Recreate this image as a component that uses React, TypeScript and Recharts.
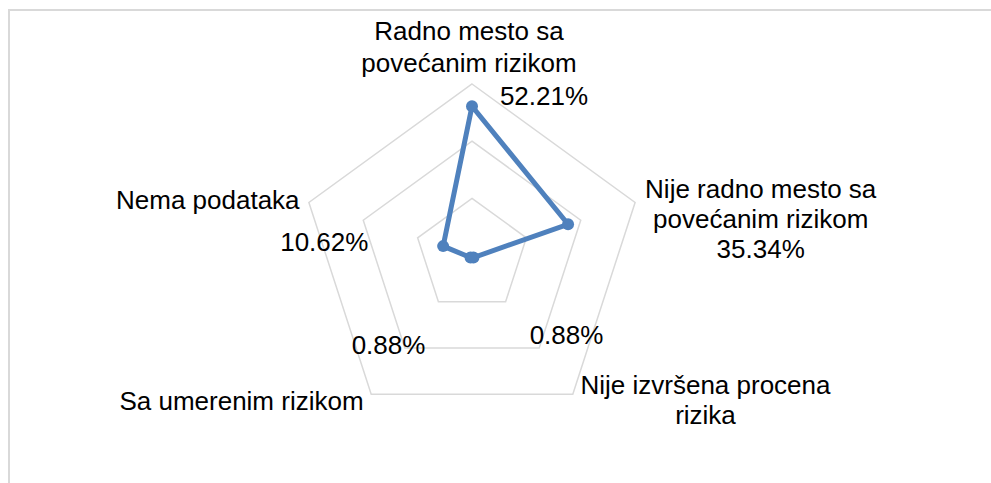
import { PolarAngleAxis, PolarGrid, PolarRadiusAxis, Radar, RadarChart } from 'recharts';

const categories = [
  'Radno mesto sa|povećanim rizikom',
  'Nije radno mesto sa|povećanim rizikom',
  'Nije izvršena procena|rizika',
  'Sa umerenim rizikom',
  'Nema podataka',
];
const shares = [52.21, 35.34, 0.88, 0.88, 10.62];
const radiusTicks = [0, 20, 40, 60];

const data = categories.map((name, i) => ({ name, value: shares[i] }));

// label placement relative to the tick anchor (Excel had these dragged around)
const nameOffset = [
  { dx: -3, dy: -36, lh: 32 },
  { dx: 118, dy: -2, lh: 30 },
  { dx: 128, dy: -7, lh: 30 },
  { dx: -125, dy: 9, lh: 30 },
  { dx: -93.5, dy: 9, lh: 30 },
];
const valueOffset = [
  { dx: 72, dy: 29 },
  { dx: 118, dy: 58 },
  { dx: -11, dy: -57 },
  { dx: 22, dy: -47 },
  { dx: 23, dy: 51 },
];

const fmt = (v: number) => `${v.toFixed(2)}%`;

function AxisTick(props: any) {
  const { x, y, index, payload } = props;
  const lines = String(payload.value).split('|');
  const n = nameOffset[index];
  const v = valueOffset[index];
  return (
    <g>
      <text x={x + n.dx} y={y + n.dy} textAnchor="middle" fontSize={26} fill="#000">
        {lines.map((l, k) => (
          <tspan key={k} x={x + n.dx} dy={k === 0 ? 0 : n.lh}>
            {l}
          </tspan>
        ))}
      </text>
      <text x={x + v.dx} y={y + v.dy} textAnchor="middle" fontSize={26} fill="#000">
        {fmt(shares[index])}
      </text>
    </g>
  );
}

export default function App() {
  return (
    <div style={{ position: 'relative', width: 991, height: 483, fontFamily: '"Liberation Sans", Arial, sans-serif' }}>
      <style>{'body{margin:0;overflow:hidden}'}</style>
      <div
        style={{
          position: 'absolute',
          left: 8,
          top: 9,
          width: 983,
          height: 474,
          borderTop: '2px solid #d9d9d9',
          borderLeft: '2px solid #d9d9d9',
          boxSizing: 'border-box',
        }}
      />
      <div style={{ position: 'absolute', left: 0, top: 0 }}>
        <RadarChart width={991} height={483} data={data} cx={472} cy={255.5} outerRadius={171.5}>
          <PolarGrid gridType="polygon" radialLines={false} stroke="#d9d9d9" strokeWidth={1.5} />
          <PolarAngleAxis dataKey="name" tick={<AxisTick />} tickLine={false} axisLine={false} />
          <PolarRadiusAxis domain={[0, 60]} ticks={radiusTicks} tick={false} axisLine={false} />
          <Radar
            dataKey="value"
            stroke="#4f81bd"
            strokeWidth={5}
            fill="none"
            fillOpacity={0}
            dot={{ r: 6, fill: '#4f81bd', stroke: '#4f81bd', strokeWidth: 0, fillOpacity: 1 }}
            isAnimationActive={false}
          />
        </RadarChart>
      </div>
    </div>
  );
}
